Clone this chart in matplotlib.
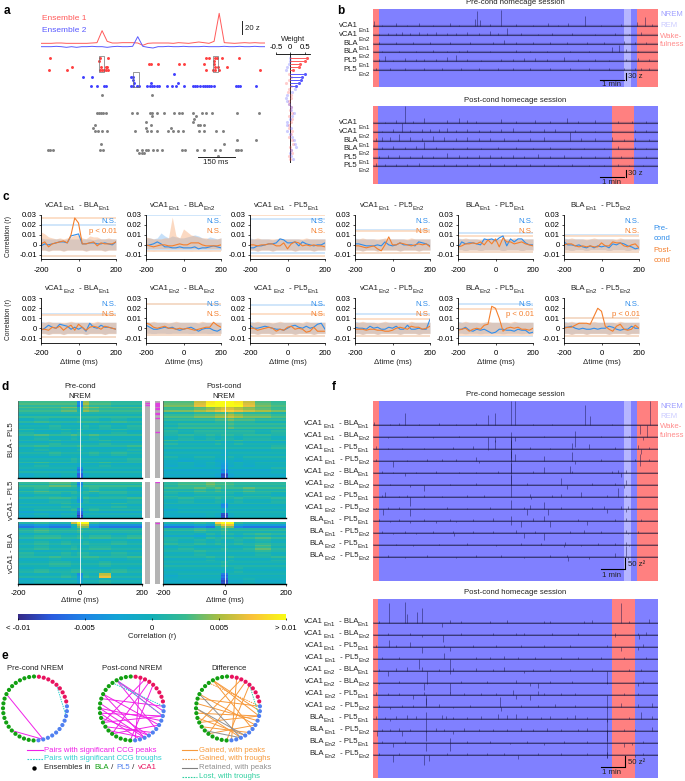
# multi-panel figure: assemblies, session traces, CCGs, heatmaps, graphs
import numpy as np
import matplotlib
matplotlib.use("Agg")
import matplotlib.pyplot as plt
from matplotlib.colors import LinearSegmentedColormap
from matplotlib.patches import Rectangle

plt.rcParams["font.family"] = ["Liberation Sans", "DejaVu Sans"]
plt.rcParams["font.size"] = 5.5
plt.rcParams["axes.linewidth"] = 0.6
plt.rcParams["xtick.major.width"] = 0.5
plt.rcParams["ytick.major.width"] = 0.5
plt.rcParams["xtick.major.size"] = 1.5
plt.rcParams["ytick.major.size"] = 1.5
plt.rcParams["xtick.major.pad"] = 4
plt.rcParams["ytick.major.pad"] = 1.5

W, H = 685, 781
RED, BLUE = "#FF5A5A", "#5A5AFF"
NREM_C, REM_C, WAKE_C = "#8080FF", "#B6B6FF", "#FF8080"
PRE_C, POST_C = "#2F8DEB", "#F47F2C"
FS = 5.6

# --- panel a ---
ENS1_Z = [0, 0, 0, 0.5, 0.5, 0, 0, 0, 0, 0, 0.5, 1, 19, 3, 0.5, 0.5, 1, 1, 1, 0.5,
          -3, 0, 0.5, 0.5, 0.5, 0.5, 0, 1, 0.5, 0, 1, 2, 1, 0, 3, 45, 1, 0.5, 0, 0.5,
          1, 0.5, 1, 0.5, 0.5]
ENS2_Z = [0, 0, 0, 0.5, 0, -1, 0, -1, 0, 0, 0.5, 0, 0, -1, 0, 0.5, 0, 0, 0.5, 15,
          0.5, -1, -2, 0, 0, 0.5, 0, 0, 0.5, 0, 0, 0, 0.5, 0, 0, 0, 0.5, 0, 0, 0.5,
          0, 0, 0.5, 0, 0]
RASTER_ROWS = [0, 1, 2, 3, 4, 5, 6, 7, 8, 9, 12, 18, 19, 20, 21, 22, 23, 24, 27, 28, 30, 31, 32]
RASTER_TIMES = [
    [36, 237, 271, 662, 673, 699, 706, 729, 797],
    [234, 697],
    [434, 441, 469, 556, 576, 655, 695],
    [125, 241, 261, 267, 699, 712, 749],
    [34, 106, 237, 244, 253, 261, 268, 661, 693, 699, 716, 878],
    [535],
    [169, 206, 360, 371],
    [371],
    [374, 441, 551],
    [201, 224, 253, 260, 360, 368, 385, 393, 427, 436, 445, 454, 465, 476, 505, 525, 541,
     575, 612, 620, 628, 639, 649, 657, 666, 675, 682, 695, 784, 792, 800, 864],
    [244, 445],
    [226, 234, 243, 251, 260, 364, 385, 436, 445, 468, 494, 535, 553, 568, 610, 645, 663,
     686, 789, 874],
    [444, 623],
    [616],
    [422, 612],
    [217, 442, 630, 639, 655],
    [209, 421, 521],
    [217, 230, 247, 267, 378, 425, 441, 468, 509, 532, 552, 570, 635, 655, 702, 733],
    [789, 864],
    [241, 737],
    [27, 36, 47, 237, 251, 387, 405, 422, 431, 449, 468, 488, 565, 579, 626, 655, 699, 720,
     784, 793, 803],
    [395, 405, 414],
    [713],
]
WEIGHT_1 = [.6, .52, .35, .3, .1, -.05, .02, -.03, -.15, .03, -.05, -.08, .02, .03, -.05,
            -.03, .02, 0, .05, -.05, .05, .03, -.04, -.05, .05, .02, -.05, .05, .1, -.02,
            .02, .05, -.03, 0]
WEIGHT_2 = [-.02, 0, -.03, -.1, -.15, .52, .4, .38, .3, .2, .18, .05, -.1, -.15, -.12, -.05,
            .02, .01, .12, .05, 0, -.1, -.12, .02, -.1, -.02, .05, .12, .15, .2, .02, -.02,
            .03, .1]

# --- panel b, spikes as (position in % of session, amplitude in z) ---
B_LABELS = [("vCA1", "En1"), ("vCA1", "En2"), ("BLA", "En1"), ("BLA", "En2"), ("PL5", "En1"), ("PL5", "En2")]
B_PRE = [
    [(.3, 20), (3, 6), (8, 14), (12, 6), (16, 12), (21, 6), (27, 14), (30, 6), (35.8, 30), (36.6, 62), (37.5, 24), (41, 8), (45, 68), (50, 8), (56, 6), (61.5, 14), (65, 6), (68.5, 12), (74.4, 44), (80, 6), (87, 8), (92.6, 18), (95.5, 38), (98, 8)],
    [(2, 6), (5, 10), (8, 8), (10, 14), (13, 10), (16, 12), (19, 10), (22, 14), (26, 8), (29, 10), (33, 12), (37, 8), (41, 16), (44, 10), (47, 28), (52, 8), (58, 6), (63, 10), (70, 8), (78, 6), (85, 8), (90, 6), (94, 12)],
    [(2, 5), (8, 5), (14, 6), (20, 5), (27, 6), (34, 5), (42, 8), (46, 14), (50, 8), (56, 7), (62, 6), (68, 6), (75, 5), (81, 6), (88, 12), (92, 5), (96, 6)],
    [(3, 5), (9, 6), (15, 5), (21, 8), (26, 6), (30, 5), (33, 8), (41, 6), (50, 8), (55, 5), (61, 6), (69, 5), (76, 6), (84, 20), (86.5, 30), (89, 12), (93, 6)],
    [(2, 10), (4, 22), (7, 6), (11, 12), (15, 8), (18, 8), (22, 10), (26, 18), (29, 24), (33, 10), (38, 6), (45, 8), (49, 10), (53, 14), (57, 12), (61, 8), (67, 16), (72, 8), (78, 10), (83, 6), (89, 8), (93, 12), (97, 8)],
    [(1, 5), (6, 5), (11, 6), (18, 5), (24, 6), (31, 5), (37, 5), (44, 8), (49, 6), (55, 6), (62, 5), (69, 6), (76, 5), (83, 5), (88, 9), (92, 5), (94, 8), (97, 5)],
]
B_POST = [
    [(4, 5), (8, 14), (11, 70), (14, 10), (18, 20), (26, 12), (30, 20), (33, 14), (36, 8), (45, 18), (50, 8), (57, 12), (62, 8), (68, 20), (72, 8), (78, 12), (86, 8), (91, 10), (96, 8)],
    [(3, 6), (7, 14), (10, 36), (13, 8), (17, 14), (20, 12), (23, 14), (26, 16), (29, 10), (33, 14), (37, 10), (41, 8), (45, 14), (49, 18), (55, 8), (60, 12), (64, 14), (71, 8), (78, 6), (84, 6), (92, 8), (96, 10)],
    [(1, 10), (3, 14), (6, 16), (9, 28), (13, 16), (17, 12), (21, 20), (25, 14), (29, 10), (33, 16), (37, 10), (41, 12), (46, 10), (51, 8), (55, 10), (60, 14), (69, 34), (73, 12), (78, 10), (84, 14), (88, 8), (92, 12), (97, 8)],
    [(3, 8), (7, 12), (11, 10), (15, 12), (18, 32), (22, 8), (28, 6), (33, 10), (38, 6), (44, 8), (50, 8), (56, 6), (62, 8), (69, 6), (74, 6), (81, 6), (86, 14), (92, 8), (96, 6)],
    [(2, 8), (5, 12), (9, 14), (13, 10), (17, 12), (21, 10), (26, 22), (30, 14), (33, 10), (37, 12), (41, 14), (45, 10), (49, 14), (53, 8), (58, 18), (62, 10), (67, 14), (73, 8), (78, 10), (83, 8), (87, 10), (91, 6), (96, 8)],
    [(1, 12), (4, 8), (8, 10), (12, 8), (16, 12), (21, 6), (25, 10), (29, 8), (33, 10), (37, 8), (41, 12), (46, 8), (50, 10), (55, 8), (60, 8), (65, 6), (70, 8), (76, 6), (81, 6), (86, 8), (90, 6), (95, 6)],
]

# --- panel c, correlations in units of 0.001 ---
LAGS = list(range(-200, 201, 20))
C_TITLES = [
    [("vCA1", 0), ("En1", 1), (" - BLA", 0), ("En1", 1)], [("vCA1", 0), ("En1", 1), (" - BLA", 0), ("En2", 1)],
    [("vCA1", 0), ("En1", 1), (" - PL5", 0), ("En1", 1)], [("vCA1", 0), ("En1", 1), (" - PL5", 0), ("En2", 1)],
    [("BLA", 0), ("En1", 1), (" - PL5", 0), ("En1", 1)], [("BLA", 0), ("En1", 1), (" - PL5", 0), ("En2", 1)],
    [("vCA1", 0), ("En2", 1), (" - BLA", 0), ("En1", 1)], [("vCA1", 0), ("En2", 1), (" - BLA", 0), ("En2", 1)],
    [("vCA1", 0), ("En2", 1), (" - PL5", 0), ("En1", 1)], [("vCA1", 0), ("En2", 1), (" - PL5", 0), ("En2", 1)],
    [("BLA", 0), ("En2", 1), (" - PL5", 0), ("En1", 1)], [("BLA", 0), ("En2", 1), (" - PL5", 0), ("En2", 1)],
]
C_PRE = [
    [-1, 1, 0, 1, 2, 3, 3, 2, 9, 10, 11, 1, 1, 2, 2, 1, 1, 2, 1, 0, 3],
    [-1, 0, 1, 3, 1, -2, -2, -3, -3, -2, -3, -3, -3, -2, -4, -3, -3, -2, -1, -2, -3],
    [-3, -3, -1, -1, 0, 1, 1, 2, 6, 5, 2, 2, 3, -1, 3, 1, 0, -1, 0, 0, 2],
    [1, 1, 0, -1, -1, -1, 0, -1, 3, 0, -1, 0, 2, 0, 0, 0, -1, 3, 2, 1, -1],
    [-3, 3, 1, 2, 2, 1, 0, 6, 5, 6, 4, 7, 9, -1, 6, 3, 6, 6, 2, 0, 0],
    [3, 0, 0, -1, 0, -2, -3, -1, -3, -1, -2, -1, -3, 1, 0, 2, 1, -1, -2, -4, -3],
    [-2, 0, 3, 1, 0, 4, 3, 2, -1, 1, -1, 1, -3, 5, 1, 0, 3, 1, 1, 0, -1],
    [3, 1, -1, -1, 0, 1, 0, 1, -1, -2, -1, 0, 1, -1, -3, -1, 0, 0, -2, -3, -1],
    [3, 0, 0, 1, 2, 1, 0, -1, -1, -2, 0, 2, 3, 1, 0, 2, 0, 1, 4, 5, -1],
    [1, 0, 0, -1, 2, 0, 1, -1, -1, 1, 0, 2, -1, -1, 3, -1, -1, 0, -1, -1, 9],
    [-1, -1, 1, -2, -3, -1, -2, -1, -3, -5, -4, -1, -1, -2, -2, -3, -1, -2, -2, -5, -4],
    [1, 1, 2, 0, -1, 0, -1, -1, 0, -1, 0, 0, 2, 1, -1, -2, -1, -1, 2, 0, 0],
]
C_POST = [
    [1, 3, -2, 1, 2, 3, 4, 2, 10, 27, 22, 1, 1, 2, 3, -1, 2, 1, 1, 1, 3],
    [0, -1, -2, -1, 0, 0, -1, -1, 0, 1, 0, 0, 2, 2, 2, 0, -1, -1, -1, -1, 0],
    [0, 0, -1, 0, 0, 1, 1, -1, -1, 2, -4, 1, 3, 2, -1, 0, -1, 0, -1, -1, -2],
    [-1, -1, -2, -3, -2, -1, -4, -6, 0, 8, 0, 0, 2, 1, 0, -1, 0, 1, 0, 1, -2],
    [-2, -1, 1, 1, 2, 1, 3, 0, 5, 1, 6, -2, 7, 3, 3, 1, 2, 3, 1, 0, -1],
    [0, 1, 1, -1, -2, -1, -2, -1, -2, -2, 2, -1, -1, 3, 2, 2, -1, -2, 0, 1, -3],
    [-1, -1, -2, 1, 0, 2, -2, 1, 3, -2, 4, 1, -2, 1, 2, 1, -1, 2, 1, 0, -1],
    [5, 4, 1, 0, 1, 2, 0, 0, -1, 0, -1, 0, -1, -2, -1, 0, 1, 1, 6, 3, 1],
    [0, 0, -2, -1, 0, 1, 0, -3, -1, -2, 1, 2, -1, 0, -1, -4, -3, 1, -3, -3, -3],
    [-1, -1, -1, -2, -1, -1, -2, -2, -3, -3, -2, 0, 1, 0, -1, 2, 1, 1, -1, 0, 2],
    [-2, -1, 0, -3, -1, 0, -1, 3, 4, 22, 20, 10, -3, 0, 1, 0, 1, -1, -1, -2, 0],
    [0, 1, 1, 3, 5, 5, 5, 4, 12, 20, 17, 2, -1, -3, 2, 4, -1, -2, -1, 3, 0],
]
C_PRE_HI_BAND = [7, 6, 6, 6, 6, 6, 5, 6, 6, 6, 6, 6, 6, 6, 5, 6, 6, 6, 6, 6, 6]
C_POST_HI_BAND = [6, 6, 7, 6, 6, 6, 6, 6, 7, 6, 6, 6, 6, 6, 6, 7, 6, 6, 6, 6, 6]
C_LO_BAND = [-5, -5, -6, -5, -5, -5, -6, -5, -5, -5, -5, -5, -6, -5, -5, -5, -5, -6, -5, -5, -5]
C_POST_PEAK_0 = [13, 11, 8, 7, 6, 7, 6, 7, 8, 10, 10, 7, 6, 9, 8, 8, 6, 6, 7, 6, 6]
C_POST_PEAK_1 = [8, 7, 6, 6, 6, 7, 7, 28, 9, 7, 16, 13, 10, 9, 8, 7, 7, 6, 6, 6, 7]
C_PRE_PEAK_1 = [7, 7, 6, 7, 12, 9, 7, 9, 8, 7, 7, 8, 9, 10, 9, 7, 6, 8, 7, 6, 7]
C_NS_PRE = ["N.S."] * 12
C_NS_POST = ["p < 0.01", "N.S.", "N.S.", "N.S.", "N.S.", "N.S.", "N.S.", "N.S.", "N.S.", "N.S.", "p < 0.01", "p < 0.01"]
C_PRE_UP = [20, 30, 25.5, 15, 12, 9.5, 14, 24, 23, 14.5, 24, 10.5]
C_POST_UP = [26.5, 34, 30, 14, 9, 8.5, 13, 24.5, 14, 9, 19, 10.5]
C_PRE_LOW = [-11, -5.5, -8.5, -8, -7.5, -7.5, -8.5, -7, -7.5, -8, -8, -7.5]
C_POST_LOW = [-11, -6.5, -11, -8, -7.5, -7.5, -8.5, -7, -8, -8, -7, -7.5]

# --- panel d, heatmap rows top to bottom, units of 0.001 ---
D_EDGES = [-200, -150, -100, -60, -30, -10, 10, 30, 60, 100, 150, 200]
D_TICKS = [-200, 0, 200]
D1_PRE = [
    [2, 2, 2, 2, 2, -5, 4, 2, 2, 1, 1], [1, 1, 1, 2, 2, -1, 3, 2, 1, 1, 1], [1, 1, 1, 1, 1, 1, 1, 1, 1, 1, 1],
    [0, 1, 0, 0, 0, 1, 1, 1, 0, 1, 0], [0, 0, 1, 0, 0, 0, 1, 0, 1, 0, 1], [1, 0, 0, 1, 0, 1, 0, 0, 0, 1, 0],
    [0, 1, 0, 0, 1, 0, 0, 1, 0, 0, 0], [0, 0, 1, 0, 0, 0, 0, 0, 1, 0, 0], [0, 1, 0, 0, 0, 1, 0, 0, 0, 0, 1],
    [0, 0, 1, 0, 0, 0, 0, 1, 0, 1, 0], [0, 0, 0, 0, 1, 0, 0, 0, 0, 0, 1], [0, 1, 0, 0, 0, -1, 0, 0, 1, 0, 0],
    [0, 0, 0, 0, 0, -5, 0, 0, 0, 0, 0], [-1, 0, -1, 0, 0, -7, -1, 0, 0, 0, 0],
]
D1_POST = [
    [3, 3, 6, 9, 10, 10, 10, 9, 6, 3, 2], [2, 2, 3, 4, 5, 6, 6, 5, 4, 3, 2], [1, 1, 2, 2, 3, 3, 4, 3, 2, 2, 1],
    [1, 1, 1, 1, 2, 2, 3, 2, 2, 1, 1], [0, 1, 1, 1, 1, 1, 2, 1, 1, 1, 1], [1, 0, 1, 1, 1, 1, 1, 1, 1, 0, 1],
    [0, 1, 0, 1, 0, 1, 1, 0, 1, 1, 0], [1, 0, 0, 0, 1, 0, 0, 1, 0, 0, 0], [0, 0, 0, 0, 0, 0, 0, 0, 0, 0, 1],
    [0, 0, 0, 0, 0, -1, 0, 0, 0, 0, 0], [0, -1, 0, 0, -1, -1, 0, -1, 0, 0, 0], [-1, 0, -1, 0, -1, -3, -1, 0, -1, 0, 0],
    [-1, -1, -1, -1, -1, -4, -1, -1, -1, -1, 0], [-1, -1, -1, -1, -2, -8, -2, -1, -1, -1, -1],
]
D2_PRE = [
    [1, 1, 2, 2, 1, -5, 1, 1, 1, 1, 1], [1, 2, 1, 1, 1, -1, 1, 2, 1, 1, 0], [0, 1, 1, 0, 1, 0, 1, 0, 1, 1, 0],
    [0, 0, 1, 1, 0, -3, 1, 0, 0, 0, 1], [0, 0, 0, 1, 0, 0, 0, 0, 0, 1, 0], [-1, 0, 0, 0, 1, -5, 0, 1, 0, 0, 0],
    [-1, 0, -1, 0, 0, -8, 0, 0, 0, 0, 0],
]
D2_POST = [
    [1, 2, 2, 3, 2, 2, 2, 1, 1, 1, 1], [1, 1, 2, 1, 2, 1, 1, 1, 2, 1, 1], [1, 0, 1, 1, 1, 1, 1, 0, 1, 1, 0],
    [0, 1, 0, 0, 1, 0, 0, 1, 0, 0, 1], [0, 0, 0, 0, 0, -4, 0, 0, 0, 0, 0], [-1, 0, 0, 0, 0, -1, 0, 0, 0, 0, 0],
    [-1, -1, -1, 0, -1, -8, -1, 0, 0, 0, 0],
]
D3_PRE = [
    [1, 2, 1, 1, 6, 11, 11, 2, 1, 1, 1], [1, 2, 1, 1, 1, 2, 1, 1, 1, 1, 1], [0, 1, 1, 0, 0, 1, 0, 1, 1, 0, 1],
    [0, 1, 0, 1, 0, 0, 1, 0, 0, 1, 0], [0, 1, 0, 0, 1, 0, 0, 1, 1, 0, 0], [1, 0, 0, 1, 0, 1, 1, 0, 0, 1, 0],
    [0, 0, 1, 0, 0, 0, 1, 1, 0, 0, 1], [0, 0, 1, 1, 0, 0, 0, 0, 1, 0, 0], [0, 1, 0, 0, 1, 1, 0, 0, 0, 1, 0],
    [0, 0, 0, 1, 0, -4, 1, 0, 6, 0, 0], [-1, 0, 0, 0, 0, -2, 0, 0, 1, 0, 0],
]
D3_POST = [
    [1, 1, 2, 1, 8, 11, 11, 2, 1, 1, 1], [1, 1, 2, 1, 1, 2, 1, 1, 1, 1, 1], [0, 0, -1, 1, 0, 1, 1, 0, 1, 2, 1],
    [1, 0, 1, 0, 1, 0, 0, 1, 0, 1, 0], [0, 1, 0, 0, 0, 1, 0, 0, 1, 3, 1], [0, 0, 1, 0, 0, 0, 0, 0, 0, 1, 0],
    [0, 0, 0, 1, 0, 0, 1, 0, 0, 0, 1], [0, 0, 0, 0, 0, 1, 0, 0, 0, 0, 0], [0, 0, 0, 0, 0, 0, 0, 1, 0, 0, 0],
    [-1, 0, 0, 0, 0, -6, 0, 0, 0, 0, 0], [-1, -1, -1, -1, -1, -8, -1, -1, 0, -1, -1],
]
# row-to-row streaks on top of the coarse grid above
D1_PRE_STREAK = [.5, 1, -.5, 2, .5, 1.5, 0, -1, 1, 0, -.5, 1.5, -1, .5, 0, 1, -1, 0, 2, -.5, 0, 1, -1, .5, 1.5, -1, 0, -.5, 1, 0, -1, .5, 0, 1.5, -1, 0, .5, -1, 1, 0, -.5, 0]
D1_POST_STREAK = [0, .5, 1, 0, .5, 2, -.5, 1, 2, 0, 1, -1, 1, 0, 1.5, -1, .5, 0, 1, -.5, 0, 1.5, -1, .5, 0, 1, -1, 0, .5, -.5, 1, 0, -1, .5, 0, -.5, 1, -1, 0, .5, -.5, 0]
D2_PRE_STREAK = [1, -.5, 1.5, 0, -1, 1, .5, -1, 0, 1.5, -.5, 0, 1, -1, .5, 0, 1, -1.5, .5, -1, 0]
D2_POST_STREAK = [.5, 1, 0, 1.5, -.5, 1, 0, -1, .5, 1, -.5, 0, 1, -1, 0, .5, -1, .5, 0, -.5, 0]
D3_PRE_STREAK = [0, -5, -7, -.5, 1, 0, -1, .5, 1.5, -1, 0, 1, -.5, 0, 1, -1, .5, 0, 1.5, -.5, -1, 0, 1, 0, -1, .5, 1, -.5, 0, 1, -1, .5, 0]
D3_POST_STREAK = [0, -4, -7, 0, 1, -1, .5, -1.5, 1, 0, -.5, 1, 0, -1, .5, 1, -.5, 0, 1, -1, 0, .5, -.5, 1, 0, -1, 0, .5, -1, 0, .5, -.5, 0]
# significant pairs, row fraction from the top of each block
D_MARKS_PRE = [[.03, .05], [], []]
D_MARKS_POST = [[.02, .035, .05, .07, .09, .11, .15, .17, .22, .40], [.01], [.02]]
CBAR_VALUES = [-10, -5, 0, 5, 10]
CBAR_LABELS = ["< -0.01", "-0.005", "0", "0.005", "> 0.01"]

# --- panel e, dots numbered clockwise from the top ---
N_RED, N_BLUE, N_GREEN = 9, 11, 21
E_PRE_PEAK = [(18, 33), (18, 25)]
E_PRE_TROUGH = [(4, 11)]
E_POST_PEAK = [(37, 10), (37, 11), (37, 14), (33, 13), (33, 17), (31, 16), (30, 12), (30, 17), (29, 11), (28, 16),
               (27, 11), (26, 15), (25, 17), (24, 13), (3, 24), (2, 27), (1, 19), (29, 18), (32, 9), (4, 20)]
E_POST_TROUGH = [(37, 11), (36, 9)]
E_DIFF_PEAK = [(37, 10), (37, 11), (37, 14), (33, 13), (31, 12), (30, 17), (29, 11), (28, 16), (27, 11), (26, 15),
               (24, 13), (3, 24), (2, 27), (1, 19), (4, 20), (32, 9)]
E_DIFF_TROUGH = [(36, 9)]
E_DIFF_KEPT = [(33, 17), (30, 16), (25, 17)]
E_DIFF_LOST = [(4, 11)]

# --- panel f, spikes as (position in % of session, amplitude in z^2) ---
F_LABELS = [("vCA1", "En1", "BLA", "En1"), ("vCA1", "En1", "BLA", "En2"), ("vCA1", "En1", "PL5", "En1"),
            ("vCA1", "En1", "PL5", "En2"), ("vCA1", "En2", "BLA", "En1"), ("vCA1", "En2", "BLA", "En2"),
            ("vCA1", "En2", "PL5", "En1"), ("vCA1", "En2", "PL5", "En2"), ("BLA", "En1", "PL5", "En1"),
            ("BLA", "En1", "PL5", "En2"), ("BLA", "En2", "PL5", "En1"), ("BLA", "En2", "PL5", "En2")]
F_PRE = [
    [(.3, 13), (6, 6), (9, 8), (11.3, 55), (16, 6), (23, 8), (29, 6), (36, 8), (40.4, 47), (42.8, 55), (48.3, 110), (49.8, 110), (56, 6), (63, 6), (74.4, 94), (76.2, 40), (84, 6), (93.8, -40), (96.1, -55), (97.3, 110)],
    [(5, -4), (12, 5), (21, -5), (30, 6), (40.4, -60), (42.8, -25), (48.3, -100), (49.8, -20), (60, 5), (70.9, -45), (70.9, 30), (80, 5), (90, 5), (95, -12)],
    [(1, 14), (5, 6), (10, 5), (18, 6), (28, 8), (35, 14), (42.8, 40), (48.3, 80), (55, 8), (62, 6), (70, 30), (76, 24), (85, 8), (93, 18), (94, -25), (97, 8)],
    [(1, 8), (7, -28), (12, 6), (19, 10), (24, 8), (29, 8), (36, 20), (37, -10), (48.3, 100), (49.8, 30), (60, 24), (70, 40), (71, -14), (80, 10), (92, 10), (93.8, 30), (93.8, -22), (97, 10)],
    [(3, 8), (7, 6), (11, -16), (15, 6), (22, 8), (30, 6), (36, 6), (44, 10), (48.3, 100), (56, 10), (60, 26), (69, 34), (70, 10), (84, 8), (86, 12), (87, -20), (89, 14)],
    [(6, 6), (13, -8), (18, -30), (27, 6), (36, 8), (48.3, 100), (54, 8), (66, 30), (68, -20), (77, 8), (85, 8), (88, -14), (89, 24)],
    [(3, 8), (4, 22), (9, 6), (12, 8), (13, -45), (18, 8), (24, 6), (33, 8), (39, 10), (48.3, 100), (55, 12), (55.5, -10), (63, 8), (66, 14), (73, 24), (82, 10), (86, 40), (89, 8)],
    [(1, 6), (3.5, -30), (5, 10), (9, 8), (13, -35), (18, 6), (26, 8), (33, 6), (41, 10), (48.3, 40), (53, 10), (54, -30), (55, 18), (60, 30), (61.5, -28), (66, 8), (77, 8), (81, 12), (82, -22), (87, 12), (89, -14), (89.5, 14)],
    [(2, 8), (6, -8), (9, 8), (13, -10), (18, 6), (22, -10), (27, 8), (29, -8), (35, 6), (42, 12), (48.3, 24), (48.3, -22), (52, -30), (56, 14), (60, 20), (62, -28), (72, 10), (75, -20), (85, 8), (89, 14), (94, 10)],
    [(3, 6), (7, -8), (11, 10), (15, -8), (21, 8), (28, 10), (28.5, -14), (35, 8), (42, 8), (50, 12), (53, -24), (57, 10), (60, -35), (69, 8), (74, 12), (80, 8), (89, 14), (89.5, -8), (93, 6)],
    [(8, 5), (14, -6), (23, 5), (33, 6), (43, -6), (52, 8), (59, 10), (67, -10), (67.3, 12), (73, -8), (79, 6), (85, 10), (89, 14), (90, -8)],
    [(5, 6), (11, -8), (19, 6), (29, -6), (36, 10), (45, 6), (53, -8), (62, 6), (68, 8), (68.5, -22), (76, -10), (85, 18), (89, 50), (89.5, -12)],
]
F_POST = [
    [(2, 10), (5.5, 90), (11, 95), (12, 40), (15.5, 50), (17, 70), (24, -20), (27, 14), (31, 10), (41, 8), (47, 12), (60, 8), (62, 6), (74, 8), (77, 14), (87, 90), (90, 8), (97, 18)],
    [(5, 6), (13, 10), (17, -10), (24.5, -35), (31, 8), (42, 8), (50, 8), (53, 10), (63, 6), (72, 8), (85, 6), (85, -12), (93, 10), (93.5, -22), (96, 14)],
    [(1, 8), (5.5, 30), (8, 6), (13, 24), (17, -30), (25, 8), (27, -20), (35, 8), (43, 6), (52, 8), (60, 6), (69, 8), (82, 6), (87, -20), (93, -14), (95, 12)],
    [(3, 6), (9, 10), (16, -50), (24.8, 26), (27, -70), (36, 8), (41, 10), (46, 12), (51, 8), (57, 8), (66, 8), (72, 6), (80, 8), (88, 6), (96, 6)],
    [(2, 8), (5, -26), (8, 12), (12, 16), (17, 18), (19, -60), (23, 10), (28, 12), (36, 12), (42, 10), (46, 16), (53, -12), (56, 10), (62, 8), (69, 8), (77, 14), (82, -60), (90, 8), (94, 10)],
    [(2, -4), (9, 8), (18, -32), (27, -50), (31, 6), (40, 8), (50, 14), (55, -14), (58, -24), (62, 10), (70, 8), (82, 5), (93, -14), (95, 8)],
    [(1, 14), (5, 10), (9, 10), (14, -22), (18, 14), (18.5, -50), (27, 12), (32, 10), (38, 8), (43, 6), (49, 24), (50, -22), (55, -24), (58, 18), (60, 10), (66, 10), (71, 10), (82, -60), (88, 8), (93, 8)],
    [(2, 8), (6, -10), (10, 10), (14, 8), (18.5, 40), (23, 12), (28, -8), (34, 8), (44.6, 46), (45, -22), (52, 6), (58, 10), (64, 14), (71, 10), (82, -70), (87, 16), (93, 12), (98, 16)],
    [(1, 14), (4, 10), (6, -12), (8, 14), (12, 16), (15, 14), (18.5, 30), (18.5, -60), (24, 16), (25.5, 12), (28, 10), (33, 10), (38, 14), (44, 24), (47, 16), (50, 20), (54, 14), (59, 10), (62, 12), (68, 8), (71, 18), (75, 10), (82, -60), (90, 10), (94, 30), (98, 14)],
    [(1.2, -24), (3, 8), (6, 10), (9, 14), (10, -26), (13, 10), (18.5, -50), (22, 12), (25, 10), (28, -14), (32, 14), (37, 8), (42, 10), (47, 10), (52, 12), (56, 10), (61, 14), (66, 8), (72, 10), (75, 14), (82, -50), (88, 8), (92, 10), (98, 16)],
    [(3, 6), (7, -20), (11, 10), (18.5, -40), (27, 22), (27, -40), (33, 8), (41, 10), (48, -8), (54, 8), (60, -12), (67, 6), (75, 8), (82, 60), (82, -70), (88, -18), (91, -12), (95, 8)],
    [(2, 8), (7, -36), (9, 6), (18, -50), (19.5, -30), (26, 8), (33, 6), (40, 8), (46, 6), (51, -18), (58, 6), (66, 8), (75, 6), (82, 12), (82, -16), (92, -12), (95, 6)],
]


def cbar_cmap():
    return LinearSegmentedColormap.from_list("parula_like", [
        "#352A87", "#2A5CE0", "#1E86E6", "#12A5D5", "#14B0B8", "#38BB90", "#A8BE42", "#FBC23A", "#F9FB15"])


fig = plt.figure(figsize=(W / 100, H / 100), dpi=100)
overlay = fig.add_axes([0, 0, 1, 1], zorder=20)
overlay.set_xlim(0, W)
overlay.set_ylim(H, 0)
overlay.axis("off")
overlay.patch.set_alpha(0)
renderer = fig.canvas.get_renderer()


def px_axes(x0, y0, x1, y1):
    return fig.add_axes([x0 / W, 1 - y1 / H, (x1 - x0) / W, (y1 - y0) / H])


def put(x, y, s, **kw):
    kw.setdefault("ha", "left")
    kw.setdefault("va", "center")
    kw.setdefault("color", "#222222")
    return overlay.text(x, y, s, **kw)


def chain(x, y, parts, size=FS, sub_size=4.6, drop=3.0, ha="left", color="#222222"):
    # text pieces one after another, the ones flagged 1 are subscripts
    pieces = []
    total = 0
    for s, is_sub in parts:
        t = put(0, 0, s, fontsize=sub_size if is_sub else size, color=color)
        w = t.get_window_extent(renderer).width
        if s.startswith(" "):
            w += 2
        pieces.append((t, w, is_sub, s))
        total += w
    cur = x - total if ha == "right" else x
    for t, w, is_sub, s in pieces:
        t.set_position((cur + (2 if s.startswith(" ") else 0), y + (drop if is_sub else 0)))
        cur += w


def color_chain(x, y, parts, size=FS):
    cur = x
    for s, c in parts:
        t = put(cur, y, s, fontsize=size, color=c)
        cur += t.get_window_extent(renderer).width + (1.6 if s.endswith(" ") else 0)


def session_axes(y0, y1, spans):
    ax = px_axes(373.3, y0, 657.7, y1)
    ax.set_xlim(0, 100)
    ax.set_ylim(y1, y0)
    ax.axis("off")
    ax.axvspan(0, 100, color=NREM_C, lw=0)
    for a, b, c in spans:
        ax.axvspan(a, b, color=c, lw=0)
    return ax


def draw_traces(ax, spikes, baselines, px_per_unit, thick=1.6):
    for tr, base in zip(spikes, baselines):
        ax.hlines(base, 0, 100, color="#1A1A40", lw=thick, alpha=0.3)
        ax.hlines(base, 0, 100, color="#10102A", lw=0.5, alpha=0.7)
        pos = [p for p, a in tr]
        amp = [a for p, a in tr]
        tops = [base - a * px_per_unit for a in amp]
        ax.vlines(pos, base, tops, color="#15154A", lw=0.55, alpha=0.6)


# panel letters
for s, x, y in [("a", 4, 11), ("b", 337, 11), ("c", 3, 197), ("d", 1, 387), ("e", 1, 656), ("f", 332, 387)]:
    put(x, y, s, fontsize=8.5, fontweight="bold", color="black")

# ---------- a ----------
ax = px_axes(41, 5, 265, 50)
z_time = [i * 20 for i in range(len(ENS1_Z))]
ax.plot(z_time, ENS1_Z, color=RED, lw=0.7)
ax.plot(z_time, [v - 5 for v in ENS2_Z], color=BLUE, lw=0.7)
ax.set_xlim(0, 880)
ax.set_ylim(-10, 57.5)
ax.axis("off")
put(41.6, 19, "Ensemble 1", fontsize=6, color=RED)
put(41.6, 30, "Ensemble 2", fontsize=6, color=BLUE)
overlay.plot([242, 242], [21, 34], color="#222222", lw=0.7)
put(245, 28, "20 z", fontsize=FS)

ax = px_axes(41, 54, 265, 163)
ax.set_xlim(0, 900)
ax.set_ylim(34.4, -1.41)
ax.axis("off")
for r, times in zip(RASTER_ROWS, RASTER_TIMES):
    c = "#FF4040" if r < 5 else ("#4040FF" if r < 10 else "#808080")
    ax.scatter(times, [r] * len(times), s=4.5, color=c, lw=0)
for t0, t1, r0, r1 in [(232, 252, -0.7, 4.5), (370, 392, 4.5, 9.5), (692, 712, -0.7, 4.5)]:
    ax.add_patch(Rectangle((t0, r0), t1 - t0, r1 - r0, fill=False, ec="#707070", lw=0.5))
overlay.plot([197.6, 235], [157, 157], color="#222222", lw=0.7)
put(216, 163, "150 ms", fontsize=FS, ha="center")

ax = px_axes(276, 54, 310, 163)
ax.set_xlim(-0.5, 0.69)
ax.set_ylim(34.4, -1.41)
for sp in ["left", "right", "bottom"]:
    ax.spines[sp].set_visible(False)
ax.patch.set_alpha(0)
ax.xaxis.tick_top()
ax.tick_params(axis="x", pad=1)
ax.set_xticks([-0.5, 0, 0.5])
ax.set_xticklabels(["-0.5", "0", "0.5"], fontsize=FS)
ax.set_yticks([])
rows = np.arange(len(WEIGHT_1))
ax.axvline(0, color="#222222", lw=0.7, zorder=1)
ax.hlines(rows[:5], 0, WEIGHT_1[:5], color=RED, lw=0.7)
ax.scatter(WEIGHT_1[:5], rows[:5], s=5, color=RED, lw=0)
ax.scatter(WEIGHT_1[5:], rows[5:], s=5, color=RED, lw=0, alpha=0.3)
ax.hlines(rows[5:10], 0, WEIGHT_2[5:10], color=BLUE, lw=0.7)
ax.scatter(WEIGHT_2[5:10], rows[5:10], s=5, color=BLUE, lw=0)
ax.scatter(WEIGHT_2[:5], rows[:5], s=5, color=BLUE, lw=0, alpha=0.3)
ax.scatter(WEIGHT_2[10:], rows[10:], s=5, color=BLUE, lw=0, alpha=0.3)
put(292.7, 39.5, "Weight", fontsize=FS, ha="center")

# ---------- b ----------
B_BASE_PRE = [26.3, 35, 43.7, 52.3, 61, 69.7]
B_BASE_POST = [123.3, 132, 140.7, 149.3, 158.3, 166]
for y0, y1, base, spikes, spans, title_y in [
    (9, 87, B_BASE_PRE, B_PRE, [(0, 2, WAKE_C), (88, 90.7, REM_C), (92.7, 100, WAKE_C)], 3),
    (106, 184, B_BASE_POST, B_POST, [(0, 1.7, WAKE_C), (84, 91.8, WAKE_C)], 100),
]:
    ax = session_axes(y0, y1, spans)
    draw_traces(ax, spikes, base, 7.3 / 30)
    put(515.5, title_y, "Pre-cond homecage session" if y0 == 9 else "Post-cond homecage session", fontsize=FS, ha="center")
    for (name, en), b in zip(B_LABELS, base):
        put(357.5, b - 0.6, name, fontsize=FS, ha="right")
        put(358.5, b + 4.5, en, fontsize=4.6, color="#222222")
put(660, 15, "NREM", fontsize=FS, color="#A0A0FF")
put(660, 25.7, "REM", fontsize=FS, color="#CCCCFF")
put(660, 36, "Wake-", fontsize=FS, color="#FF8C8C")
put(660, 44.5, "fulness", fontsize=FS, color="#FF8C8C")
overlay.plot([600.3, 623.7], [79.7, 79.7], color="black", lw=0.8)
overlay.plot([625.7, 625.7], [72.7, 80], color="black", lw=0.8)
put(612, 85, "1 min", fontsize=FS, ha="center")
put(628, 76.5, "30 z", fontsize=FS)
overlay.plot([600.3, 623.7], [177, 177], color="black", lw=0.8)
overlay.plot([625.7, 625.7], [170, 177], color="black", lw=0.8)
put(612, 182, "1 min", fontsize=FS, ha="center")
put(628, 173.5, "30 z", fontsize=FS)

# ---------- c ----------
C_X = [41, 146, 250, 355, 458, 564]
C_TITLE_X = [45, 150, 254.3, 360, 465, 570.7]
C_ROWS = [(215, 259.3, 205.7, 269), (298.3, 342.7, 288.3, 352.7)]
for i in range(12):
    col = i % 6
    row = i // 6
    y0, y1, ty, lab_y = C_ROWS[row]
    ax = px_axes(C_X[col], y0, C_X[col] + 75, y1)
    post_hi = C_POST_PEAK_0 if i == 0 else (C_POST_PEAK_1 if i == 1 else C_POST_HI_BAND)
    pre_hi = C_PRE_PEAK_1 if i == 1 else C_PRE_HI_BAND
    ax.fill_between(LAGS, C_LO_BAND, pre_hi, color="#8FC3F5", alpha=0.5, lw=0)
    ax.fill_between(LAGS, [v - 0.4 for v in C_LO_BAND], post_hi, color="#F7A56E", alpha=0.42, lw=0)
    for v, c in [(C_PRE_UP[i], "#C8E2FA"), (C_PRE_LOW[i], "#C8E2FA"), (C_POST_UP[i], "#FCD9BF"), (C_POST_LOW[i], "#FCD9BF")]:
        ax.axhline(v, color=c, lw=1.2, zorder=1.5)
    ax.plot(LAGS, C_PRE[i], color=PRE_C, lw=0.8)
    ax.plot(LAGS, C_POST[i], color=POST_C, lw=0.8)
    ax.set_xlim(-200, 200)
    ax.set_ylim(-14.5, 30)
    ax.spines["top"].set_visible(False)
    ax.spines["right"].set_visible(False)
    ax.set_xticks([-200, 0, 200])
    ax.set_xticklabels(["-200", "0", "200"], fontsize=FS)
    ax.set_yticks([-10, 0, 10, 20, 30])
    ax.set_yticklabels(["-0.01", "0", "0.01", "0.02", "0.03"], fontsize=FS)
    ax.patch.set_alpha(0)
    ax.set_zorder(2)
    chain(C_TITLE_X[col], ty, C_TITLES[i], size=5.6, sub_size=4.6, drop=3.2)
    put(C_X[col] + 76, y0 + 6.5, C_NS_PRE[i], fontsize=FS, ha="right", color=PRE_C)
    put(C_X[col] + 76, y0 + 16.5, C_NS_POST[i], fontsize=FS, ha="right", color=POST_C)
    if row == 1:
        put(C_X[col] + 37.5, 363, "\u0394time (ms)", fontsize=FS, ha="center")
    if col == 0:
        put(9, (y0 + y1) / 2 - 1, "Correlation (r)", fontsize=4.8, rotation=90, ha="center")
for s, y, c in [("Pre-", 228, PRE_C), ("cond", 239, PRE_C), ("Post-", 250, POST_C), ("cond", 260, POST_C)]:
    put(653.3, y, s, fontsize=FS, color=c)

# ---------- d ----------
cmap = cbar_cmap()
D_BLOCKS = [(401, 478, D1_PRE, D1_POST, D1_PRE_STREAK, D1_POST_STREAK, "BLA - PL5"),
            (482, 518, D2_PRE, D2_POST, D2_PRE_STREAK, D2_POST_STREAK, "vCA1 - PL5"),
            (522, 584, D3_PRE, D3_POST, D3_PRE_STREAK, D3_POST_STREAK, "vCA1 - BLA")]
for k, (y0, y1, mat_pre, mat_post, st_pre, st_post, lab) in enumerate(D_BLOCKS):
    for x0, x1, mat, streak in [(18, 142, mat_pre, st_pre), (163, 286, mat_post, st_post)]:
        ax = px_axes(x0, y0, x1, y1)
        fine = np.repeat(np.array(mat, dtype=float), 3, axis=0) + np.array(streak)[:, None]
        r_edges = np.arange(fine.shape[0] + 1)
        ax.pcolormesh(D_EDGES, r_edges, fine, cmap=cmap, vmin=-10, vmax=10)
        ax.set_ylim(fine.shape[0], 0)
        ax.axvline(0, color="white", lw=0.7, alpha=0.85)
        for sp in ["top", "right"]:
            ax.spines[sp].set_visible(False)
        ax.spines["bottom"].set_linewidth(1.0)
        ax.spines["left"].set_linewidth(0.5)
        ax.spines["left"].set_color("#555555")
        ax.set_yticks([])
        ax.set_xticks(D_TICKS if k == 2 else [])
        if k == 2:
            ax.set_xticklabels(["-200", "0", "200"], fontsize=FS)
            ax.tick_params(axis="x", pad=2.5)
            put((x0 + x1) / 2, 600, "\u0394time (ms)", fontsize=FS, ha="center")
    for x0, x1, marks in [(145, 150, D_MARKS_PRE[k]), (155, 160, D_MARKS_POST[k])]:
        ax = px_axes(x0, y0, x1, y1)
        ax.set_xlim(0, 1)
        ax.set_ylim(1, 0)
        ax.axis("off")
        ax.axvspan(0, 1, color="#B4B4B4", lw=0)
        ax.hlines(marks, 0, 1, color="#E040E0", lw=1.0)
    put(12, (y0 + y1) / 2, lab, fontsize=FS, rotation=90, ha="center")
put(80, 386, "Pre-cond", fontsize=FS, ha="center")
put(80, 396, "NREM", fontsize=FS, ha="center")
put(224, 386, "Post-cond", fontsize=FS, ha="center")
put(224, 396, "NREM", fontsize=FS, ha="center")

ax = px_axes(18, 614, 286, 620)
ax.imshow(np.linspace(-10, 10, 256)[None, :], cmap=cmap, aspect="auto", extent=[-10, 10, 0, 1], vmin=-10, vmax=10)
ax.set_yticks([])
ax.set_xticks(CBAR_VALUES)
ax.set_xticklabels(CBAR_LABELS, fontsize=FS)
ax.tick_params(axis="x", direction="in", pad=3.5, length=1.5)
for sp in ax.spines.values():
    sp.set_visible(False)
put(152, 636, "Correlation (r)", fontsize=FS, ha="center")

# ---------- e ----------
N_ALL = N_RED + N_BLUE + N_GREEN
DOT_COLORS = ["#E8125E"] * N_RED + ["#5080F0"] * N_BLUE + ["#12A012"] * N_GREEN


def dot_xy(i, cx, cy=708.5, r=32):
    a = np.deg2rad(7 + i * 360 / N_ALL)
    return cx + r * np.sin(a), cy - r * np.cos(a)


def draw_edges(cx, edges, color, ls="-", lw=0.7):
    for a, b in edges:
        xa, ya = dot_xy(a, cx)
        xb, yb = dot_xy(b, cx)
        overlay.plot([xa, xb], [ya, yb], color=color, lw=lw, ls=ls, zorder=1)


MAG, CY, ORG = "#F020E8", "#30D0D0", "#F79A3C"
for cx, title in [(35, "Pre-cond NREM"), (131.7, "Post-cond NREM"), (228, "Difference")]:
    xs, ys = zip(*[dot_xy(i, cx) for i in range(N_ALL)])
    overlay.scatter(xs, ys, s=9, c=DOT_COLORS, lw=0, zorder=3)
    put(cx + 0.7, 668, title, fontsize=FS, ha="center")
draw_edges(35, E_PRE_PEAK, MAG)
draw_edges(35, E_PRE_TROUGH, CY, ls=(0, (1.5, 1)))
draw_edges(131.7, E_POST_PEAK, MAG)
draw_edges(131.7, E_POST_TROUGH, CY, ls=(0, (1.5, 1)))
draw_edges(228, E_DIFF_PEAK, ORG)
draw_edges(228, E_DIFF_TROUGH, ORG, ls=(0, (1.5, 1)))
draw_edges(228, E_DIFF_KEPT, "#909090")
draw_edges(228, E_DIFF_LOST, "#30D0A0", ls=(0, (1.5, 1)))
overlay.plot([26.7, 43.3], [750, 750], color=MAG, lw=0.8)
overlay.plot([26.7, 43.3], [759, 759], color=CY, lw=0.8, ls=(0, (1.5, 1)))
put(44, 750, "Pairs with significant CCG peaks", fontsize=FS, color=MAG)
put(44, 759, "Pairs with significant CCG troughs", fontsize=FS, color=CY)
overlay.scatter([34], [767.7], s=10, color="black", lw=0)
color_chain(44, 767.7, [("Ensembles in ", "#222222"), ("BLA", "#12A012"), (" / ", "#222222"), ("PL5", "#5080F0"), (" / ", "#222222"), ("vCA1", "#E8125E")])
for y, s, c, ls, tc in [(750, "Gained, with peaks", ORG, "-", ORG), (759, "Gained, with troughs", ORG, (0, (1.5, 1)), ORG),
                        (767.7, "Retained, with peaks", "#808080", "-", "#909090"), (776.7, "Lost, with troughs", "#30D0A0", (0, (1.5, 1)), "#30D0A0")]:
    overlay.plot([181.7, 196.7], [y, y], color=c, lw=0.8, ls=ls)
    put(199.3, y, s, fontsize=FS, color=tc)

# ---------- f ----------
F_BASE_PRE = [425 + 11.97 * i for i in range(12)]
F_BASE_POST = [622.7 + 12 * i for i in range(12)]
for y0, y1, base, spikes, spans, title, ty in [
    (401, 580.7, F_BASE_PRE, F_PRE, [(0, 2, WAKE_C), (88.2, 90.7, REM_C), (92.7, 100, WAKE_C)], "Pre-cond homecage session", 395),
    (599, 778.3, F_BASE_POST, F_POST, [(0, 1.6, WAKE_C), (84, 92, WAKE_C)], "Post-cond homecage session", 592.5),
]:
    ax = session_axes(y0, y1, spans)
    draw_traces(ax, spikes, base, 10.7 / 50, thick=1.3)
    put(515, ty, title, fontsize=FS, ha="center")
    for (a, ea, b, eb), yb in zip(F_LABELS, base):
        chain(369.5, yb - 1.5, [(a, 0), (ea, 1), (" - " + b, 0), (eb, 1)], size=5.6, sub_size=4.6, drop=3.4, ha="right")
put(660, 406, "NREM", fontsize=FS, color="#A0A0FF")
put(660, 417, "REM", fontsize=FS, color="#CCCCFF")
put(660, 427, "Wake-", fontsize=FS, color="#FF8C8C")
put(660, 435.5, "fulness", fontsize=FS, color="#FF8C8C")
overlay.plot([600.7, 624], [569, 569], color="black", lw=0.8)
overlay.plot([625.3, 625.3], [558.3, 569], color="black", lw=0.8)
put(612, 575.5, "1 min", fontsize=FS, ha="center")
put(628, 565, "50 z\u00b2", fontsize=FS)
overlay.plot([600.7, 624], [767, 767], color="black", lw=0.8)
overlay.plot([625.3, 625.3], [755.7, 767], color="black", lw=0.8)
put(612, 772.5, "1 min", fontsize=FS, ha="center")
put(628, 762, "50 z\u00b2", fontsize=FS)

fig.savefig("out.png", dpi=100)
